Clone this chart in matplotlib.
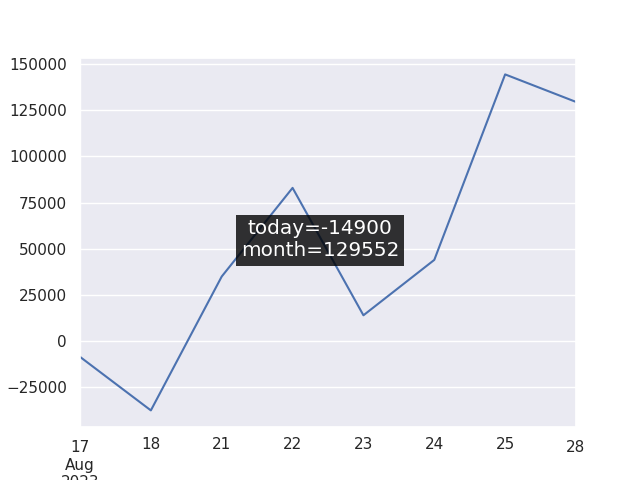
import matplotlib
matplotlib.use("Agg")
import matplotlib.pyplot as plt
import seaborn as sns
import pandas as pd

dates = ["2023-08-17", "2023-08-18", "2023-08-21", "2023-08-22",
         "2023-08-23", "2023-08-24", "2023-08-25", "2023-08-28"]
values = [-8500, -37500, 35000, 83000, 14000, 44000, 144452, 129552]
today = -14900
month = 129552

sns.set_theme()

idx = pd.DatetimeIndex(dates, freq="B")
s = pd.Series(values, index=idx)

fig, ax = plt.subplots(figsize=(6.4, 4.8), dpi=100)
s.plot(ax=ax)

fig.text(0.5, 0.5, f"today={today}\nmonth={month}", ha="center", va="center",
         fontsize=14.4, color="white",
         bbox=dict(boxstyle="square,pad=0.25", facecolor="black", alpha=0.8, edgecolor="none"))

fig.savefig("out.png", dpi=100)
